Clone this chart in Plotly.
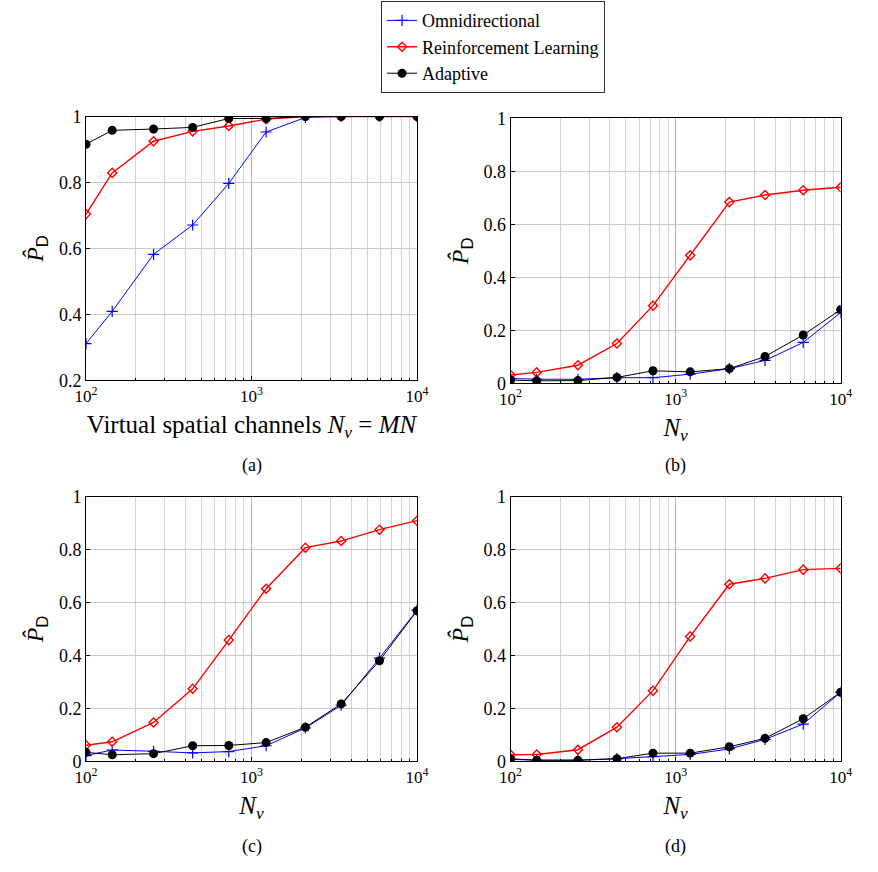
import plotly.graph_objects as go

nv = [100, 144, 256, 441, 729, 1225, 2116, 3481, 5929, 10000]

omni_a = [0.311, 0.409, 0.582, 0.671, 0.797, 0.953, 0.997, 1.0, 1.0, 1.0]
rl_a = [0.704, 0.829, 0.925, 0.955, 0.971, 0.992, 1.0, 1.0, 1.0, 1.0]
ada_a = [0.916, 0.958, 0.962, 0.967, 0.994, 0.994, 1.0, 1.0, 1.0, 1.0]

omni_b = [0.018, 0.015, 0.015, 0.021, 0.021, 0.034, 0.055, 0.086, 0.154, 0.267]
rl_b = [0.031, 0.041, 0.068, 0.150, 0.293, 0.483, 0.684, 0.711, 0.729, 0.740]
ada_b = [0.012, 0.009, 0.010, 0.022, 0.047, 0.043, 0.055, 0.101, 0.182, 0.278]

omni_c = [0.022, 0.043, 0.038, 0.032, 0.037, 0.059, 0.126, 0.212, 0.390, 0.571]
rl_c = [0.061, 0.074, 0.147, 0.274, 0.458, 0.652, 0.807, 0.832, 0.875, 0.909]
ada_c = [0.034, 0.025, 0.029, 0.059, 0.060, 0.071, 0.129, 0.217, 0.380, 0.569]

omni_d = [0.007, 0.005, 0.005, 0.010, 0.018, 0.026, 0.047, 0.083, 0.141, 0.261]
rl_d = [0.025, 0.026, 0.044, 0.129, 0.267, 0.472, 0.669, 0.691, 0.724, 0.729]
ada_d = [0.010, 0.004, 0.004, 0.010, 0.031, 0.031, 0.055, 0.087, 0.161, 0.261]

series_names = ["Omnidirectional", "Reinforcement Learning", "Adaptive"]
panel_labels = ["(a)", "(b)", "(c)", "(d)"]
xtitle_a = "Virtual spatial channels <i>N<sub>v</sub></i> = <i>MN</i>"
xtitle_other = "<i>N<sub>v</sub></i>"
ytitle = "<i>P&#770;</i><sub><span style='font-family:Liberation Sans'>D</span></sub>"
x_major = [100, 1000, 10000]
x_major_text = ["10<sup>2</sup>", "10<sup>3</sup>", "10<sup>4</sup>"]
x_minor = [200, 300, 400, 500, 600, 700, 800, 900, 2000, 3000, 4000, 5000, 6000, 7000, 8000, 9000]

W, H = 878, 872
FONT = "Liberation Serif, Times New Roman, serif"

# panel pixel boxes (x0, x1, ytop, ybottom)
boxes = [(77, 417, 109, 379), (513, 852, 111, 382), (77, 417, 498, 769), (513, 852, 498, 769)]
data = [(omni_a, rl_a, ada_a), (omni_b, rl_b, ada_b), (omni_c, rl_c, ada_c), (omni_d, rl_d, ada_d)]

fig = go.Figure()

for i, (box, (o, r, a)) in enumerate(zip(boxes, data)):
    x0, x1, yt, yb = box
    sfx = "" if i == 0 else str(i + 1)
    xa = "x" + sfx
    ya = "y" + sfx
    fig.add_trace(go.Scatter(x=nv, y=o, mode="lines+markers", name=series_names[0],
                             line=dict(color="#0000ff", width=1),
                             marker=dict(symbol="cross-thin", size=8, line=dict(color="#0000ff", width=1.2)),
                             xaxis=xa, yaxis=ya, showlegend=(i == 0)))
    fig.add_trace(go.Scatter(x=nv, y=r, mode="lines+markers", name=series_names[1],
                             line=dict(color="#ff0000", width=1.4),
                             marker=dict(symbol="diamond-open", size=7, color="#ff0000", line=dict(color="#ff0000", width=1.4)),
                             xaxis=xa, yaxis=ya, showlegend=(i == 0)))
    fig.add_trace(go.Scatter(x=nv, y=a, mode="lines+markers", name=series_names[2],
                             line=dict(color="#000000", width=1),
                             marker=dict(symbol="circle", size=9, color="#000000"),
                             xaxis=xa, yaxis=ya, showlegend=(i == 0)))

    if i == 0:
        yvals = [0.2, 0.4, 0.6, 0.8, 1.0]
        ytext = ["0.2", "0.4", "0.6", "0.8", "1"]
        yrange = [0.2, 1.0]
    else:
        yvals = [0, 0.2, 0.4, 0.6, 0.8, 1.0]
        ytext = ["0", "0.2", "0.4", "0.6", "0.8", "1"]
        yrange = [0, 1.0]

    xkey = "xaxis" + sfx
    ykey = "yaxis" + sfx
    fig.layout[xkey] = dict(
        type="log", range=[2, 4], domain=[x0 / W, x1 / W], anchor=ya,
        tickvals=x_major, ticktext=x_major_text, showgrid=True, gridcolor="#b4b4b4", gridwidth=1,
        minor=dict(tickvals=x_minor, showgrid=True, gridcolor="#d2d2d2", gridwidth=1,
                   ticks="inside", ticklen=2, tickcolor="black"),
        showline=True, linecolor="black", linewidth=1, mirror=True, zeroline=False,
        ticks="inside", ticklen=4, tickcolor="black",
        tickfont=dict(family=FONT, size=17, color="black"),
        title=dict(text=xtitle_a if i == 0 else xtitle_other,
                   font=dict(family=FONT, size=25, color="black"), standoff=10),
    )
    fig.layout[ykey] = dict(
        range=yrange, domain=[1 - yb / H, 1 - yt / H], anchor=xa,
        tickvals=yvals, ticktext=ytext, showgrid=True, gridcolor="#c8c8c8", gridwidth=1,
        showline=True, linecolor="black", linewidth=1, mirror=True, zeroline=False,
        ticks="inside", ticklen=4, tickcolor="black",
        tickfont=dict(family=FONT, size=18, color="black"),
        title=dict(text=ytitle, font=dict(family=FONT, size=24, color="black"), standoff=8),
    )
    fig.add_annotation(text=panel_labels[i], x=(x0 + x1) / 2 / W,
                       y=1 - (466 if i < 2 else 856) / H, xref="paper", yref="paper",
                       xanchor="center", yanchor="middle",
                       showarrow=False, font=dict(family=FONT, size=18, color="black"))

fig.update_layout(
    width=W, height=H, margin=dict(l=0, r=0, t=0, b=0),
    paper_bgcolor="white", plot_bgcolor="white",
    legend=dict(x=380 / W, y=1 + 9 / H, xanchor="left", yanchor="top",
                bordercolor="#333333", borderwidth=1, bgcolor="white",
                font=dict(family=FONT, size=18, color="black"),
                tracegroupgap=0, itemwidth=30),
)

fig.write_html("out.html")
